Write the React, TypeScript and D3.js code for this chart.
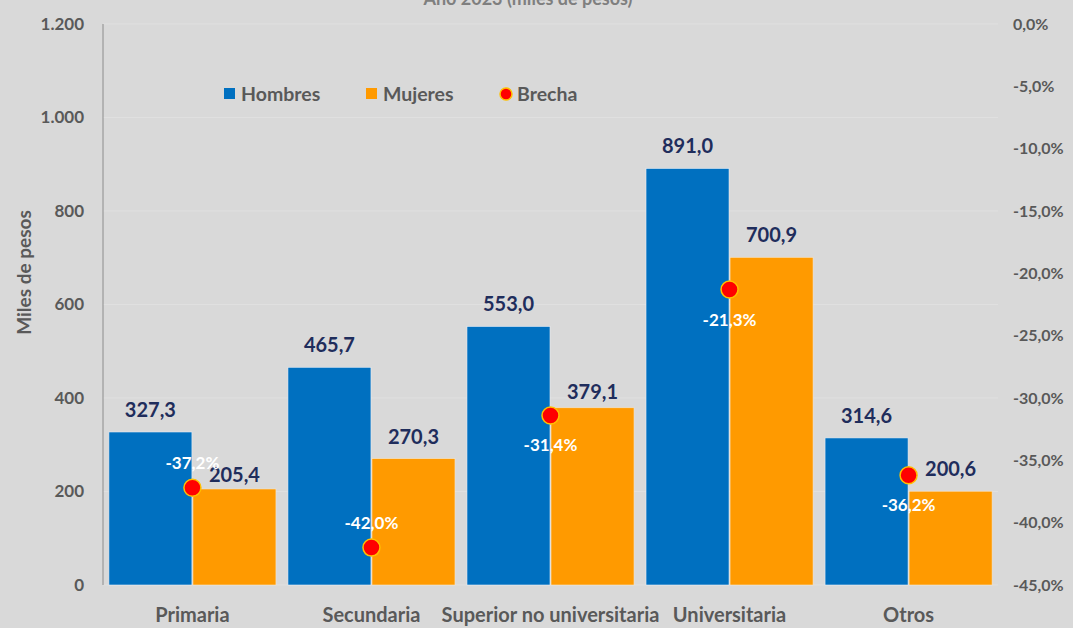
import React from "react";
import * as d3 from "d3";

const categories = ["Primaria", "Secundaria", "Superior no universitaria", "Universitaria", "Otros"];
const hombres = [327.3, 465.7, 553.0, 891.0, 314.6];
const mujeres = [205.4, 270.3, 379.1, 700.9, 200.6];
const brecha = [-37.2, -42.0, -31.4, -21.3, -36.2];
const leftTicks = [0, 200, 400, 600, 800, 1000, 1200];
const rightTicks = [0, -5, -10, -15, -20, -25, -30, -35, -40, -45];
const seriesNames = ["Hombres", "Mujeres", "Brecha"];
// label placement for the gap labels (above / below the dot)
const brechaLabelSide = ["above", "above", "below", "below", "below"];

const W = 1073;
const H = 628;
const M = { left: 103, right: 998, top: 24, bottom: 585 };
const BLUE = "#0070C0";
const ORANGE = "#FF9A00";
const NAVY = "#1F2D5C";
const GREY = "#595959";
const FONT = "Lato, 'Open Sans', sans-serif";

const fmtNum = (v: number) => v.toFixed(1).replace(".", ",").replace(/\B(?=(\d{3})+(?!\d))/g, ".");
const fmtLeft = (v: number) => (v >= 1000 ? d3.format(",")(v).replace(",", ".") : String(v));
const fmtPct = (v: number) => v.toFixed(1).replace(".", ",") + "%";

export default function App() {
  const x0 = d3.scaleBand<string>().domain(categories).range([M.left, M.right]).paddingInner(0.067).paddingOuter(0.033);
  const x1 = d3.scaleBand<string>().domain(["h", "m"]).range([0, x0.bandwidth()]).paddingInner(0.012);
  const y = d3.scaleLinear().domain([0, 1200]).range([M.bottom, M.top]);
  const yR = d3.scaleLinear().domain([-45, 0]).range([M.bottom, M.top]);

  const valueGap = (i: number, which: "h" | "m") => {
    if (which === "m" && i === 0) return 7;
    if (which === "m" && i === 2) return 9;
    return 15;
  };

  return (
    <div style={{ position: "absolute", left: 0, top: 0 }}>
      <svg width={W} height={H} style={{ display: "block", background: "#D9D9D9" }} fontFamily={FONT}>
        <rect x={0} y={0} width={W} height={H} fill="#D9D9D9" />
        <text x={528} y={5} textAnchor="middle" fontSize={18} fontWeight={700} fill="#7F7F7F">
          Año 2023 (miles de pesos)
        </text>
        {/* gridlines */}
        {leftTicks.map((t) => (
          <line key={"g" + t} x1={M.left} x2={M.right} y1={y(t)} y2={y(t)} stroke="#E0E0E0" strokeWidth={1} />
        ))}
        {/* left axis line */}
        <line x1={M.left} x2={M.left} y1={M.top} y2={M.bottom} stroke="#8C8C8C" strokeWidth={1} />
        {/* left tick labels */}
        {leftTicks.map((t) => (
          <text key={"l" + t} x={84} y={y(t)} dy="0.35em" textAnchor="end" fontSize={17} fontWeight={700} fill={GREY}>
            {fmtLeft(t)}
          </text>
        ))}
        {/* right tick labels */}
        {rightTicks.map((t) => (
          <text key={"r" + t} x={1013} y={yR(t)} dy="0.35em" textAnchor="start" fontSize={16} fontWeight={700} fill={GREY}>
            {fmtPct(t)}
          </text>
        ))}
        {/* y axis title */}
        <text
          transform={`translate(31,${(M.top + M.bottom) / 2 - 32}) rotate(-90)`}
          textAnchor="middle"
          fontSize={19}
          fontWeight={700}
          fill={GREY}
        >
          Miles de pesos
        </text>
        {/* bars */}
        {categories.map((c, i) => {
          const gx = x0(c)!;
          const hx = gx + x1("h")!;
          const mx = gx + x1("m")!;
          const bw = x1.bandwidth();
          return (
            <g key={c}>
              <rect x={hx} y={y(hombres[i])} width={bw} height={y(0) - y(hombres[i])} fill={BLUE} stroke="#E8EEF5" strokeWidth={0.6} />
              <rect x={mx} y={y(mujeres[i])} width={bw} height={y(0) - y(mujeres[i])} fill={ORANGE} stroke="#F5E6CC" strokeWidth={0.6} />
              <text x={hx + bw / 2} y={y(hombres[i]) - valueGap(i, "h")} textAnchor="middle" fontSize={20} fontWeight={700} fill={NAVY}>
                {fmtNum(hombres[i])}
              </text>
              <text x={mx + bw / 2} y={y(mujeres[i]) - valueGap(i, "m")} textAnchor="middle" fontSize={20} fontWeight={700} fill={NAVY}>
                {fmtNum(mujeres[i])}
              </text>
            </g>
          );
        })}
        {/* brecha dots */}
        {categories.map((c, i) => {
          const cx = x0(c)! + x0.bandwidth() / 2;
          const cy = yR(brecha[i]);
          const ly = brechaLabelSide[i] === "above" ? cy - 19 : cy + 36;
          return (
            <g key={"b" + c}>
              <circle cx={cx} cy={cy} r={8.5} fill="#FF0000" stroke="#FFC000" strokeWidth={1.5} />
              <text x={cx} y={ly} textAnchor="middle" fontSize={17} fontWeight={700} fill="#FFFFFF">
                {fmtPct(brecha[i])}
              </text>
            </g>
          );
        })}
        {/* category labels */}
        {categories.map((c) => (
          <text key={"c" + c} x={x0(c)! + x0.bandwidth() / 2} y={615} dy="0.35em" textAnchor="middle" fontSize={20} fontWeight={700} fill={GREY}>
            {c}
          </text>
        ))}
        {/* legend */}
        <g fontSize={19.5} fontWeight={700} fill={GREY}>
          <rect x={224} y={88} width={11} height={11} fill={BLUE} />
          <text x={241} y={94} dy="0.35em">{seriesNames[0]}</text>
          <rect x={366} y={88} width={11} height={11} fill={ORANGE} />
          <text x={383} y={94} dy="0.35em">{seriesNames[1]}</text>
          <circle cx={506} cy={94} r={6} fill="#FF0000" stroke="#FFC000" strokeWidth={1.5} />
          <text x={517} y={94} dy="0.35em">{seriesNames[2]}</text>
        </g>
      </svg>
    </div>
  );
}
